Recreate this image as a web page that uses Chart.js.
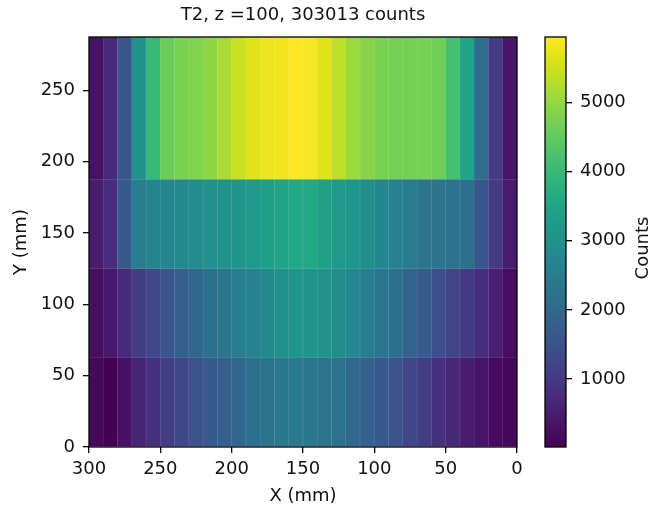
<!DOCTYPE html>
<html>
<head>
<meta charset="utf-8">
<script src="https://cdn.jsdelivr.net/npm/chart.js@4/dist/chart.umd.min.js"></script>
<style>
  html, body { margin: 0; padding: 0; background: #fff; }
  #wrap { position: relative; width: 652px; height: 505px; overflow: hidden; }
  #heat { position: absolute; left: 0; top: 0; }
  #cbar { position: absolute; left: 530px; top: 0; }
</style>
</head>
<body>
<div id="wrap">
  <canvas id="heat" width="606" height="505"></canvas>
  <canvas id="cbar" width="122" height="505"></canvas>
</div>
<script>
// ================= DATA =================
const chartTitle = "T2, z =100, 303013 counts";
const xTitle = "X (mm)";
const yTitle = "Y (mm)";
const cbarTitle = "Counts";

// column centres (mm), left to right as drawn (x axis runs 300 -> 0)
const xCenters = [295, 285, 275, 265, 255, 245, 235, 225, 215, 205,
                  195, 185, 175, 165, 155, 145, 135, 125, 115, 105,
                  95, 85, 75, 65, 55, 45, 35, 25, 15, 5];

// row edges (mm)
const yEdges = [0, 62.5, 125, 187.5, 287.5];

// counts per cell, one array per row, same order as xCenters
const countsRow1 = [131, 15, 309, 611, 842, 1086, 1258, 1497, 1680, 1793,
                    1972, 2155, 2268, 2392, 2447, 2386, 2331, 2209, 2036, 1853,
                    1675, 1501, 1263, 1081, 848, 664, 492, 368, 195, 137];
const countsRow2 = [254, 428, 731, 1079, 1318, 1562, 1794, 1971, 2149, 2333,
                    2505, 2628, 2801, 2986, 3098, 3104, 3039, 2925, 2742, 2569,
                    2327, 2154, 1912, 1738, 1436, 1205, 1021, 790, 546, 249];
const countsRow3 = [487, 784, 1674, 2511, 2683, 2748, 2801, 2867, 2980, 2986,
                    3103, 3218, 3342, 3455, 3579, 3573, 3401, 3222, 3098, 2920,
                    2747, 2624, 2451, 2327, 2272, 2208, 2154, 1561, 1027, 492];
const countsRow4 = [309, 729, 1556, 2981, 3990, 4583, 4766, 4819, 4944, 5176,
                    5473, 5655, 5770, 5833, 5950, 5888, 5650, 5359, 5062, 4880,
                    4761, 4706, 4699, 4708, 4641, 4168, 3459, 2093, 1026, 374];

const xTicks = [300, 250, 200, 150, 100, 50, 0];
const yTicks = [0, 50, 100, 150, 200, 250];
const cbarTicks = [1000, 2000, 3000, 4000, 5000];

// ================= COLORMAP =================
const VIRIDIS = ["#440154", "#471265", "#482475", "#463480", "#414487", "#3b528b",
                 "#355f8d", "#2e6d8e", "#2a788e", "#25848e", "#21918c", "#1e9c89",
                 "#22a884", "#2fb47c", "#44bf70", "#5ec962", "#7ad151", "#9bd93c",
                 "#bddf26", "#dfe318", "#fde725"];

function hexToRgb(h) {
  return [1, 3, 5].map(i => parseInt(h.slice(i, i + 2), 16));
}

function viridis(t, lighten) {
  t = Math.max(0, Math.min(1, t));
  const p = t * (VIRIDIS.length - 1);
  const i = Math.min(Math.floor(p), VIRIDIS.length - 2);
  const f = p - i;
  const a = hexToRgb(VIRIDIS[i]);
  const b = hexToRgb(VIRIDIS[i + 1]);
  let c = a.map((v, k) => v + (b[k] - v) * f);
  if (lighten) c = c.map(v => v + (255 - v) * lighten);
  return "rgb(" + c.map(Math.round).join(",") + ")";
}

const rows = [countsRow1, countsRow2, countsRow3, countsRow4];
const allCounts = rows.flat();
const vmin = Math.min(...allCounts);
const vmax = Math.max(...allCounts);
const norm = v => (v - vmin) / (vmax - vmin);

// ================= SHARED =================
const FONT = "'DejaVu Sans', sans-serif";
const INK = "#111";
Chart.defaults.font.family = FONT;
Chart.defaults.font.size = 18;
Chart.defaults.color = INK;

const frame = {
  id: "frame",
  afterDatasetsDraw(chart) {
    const a = chart.chartArea;
    const ctx = chart.ctx;
    ctx.save();
    ctx.strokeStyle = "#000";
    ctx.lineWidth = 1.3;
    ctx.strokeRect(a.left, a.top, a.right - a.left, a.bottom - a.top);
    ctx.restore();
  }
};

const tickGrid = {
  display: true,
  drawOnChartArea: false,
  drawTicks: true,
  tickLength: 6,
  color: "#000",
  lineWidth: 1.3
};

const plainNumber = v => String(v);

// ================= HEATMAP =================
const datasets = rows.map((row, r) => ({
  data: row.map((v, i) => ({ x: xCenters[i], y: [yEdges[r], yEdges[r + 1]] })),
  backgroundColor: row.map(v => viridis(norm(v))),
  borderColor: row.map(v => viridis(norm(v), 0.2)),
  borderWidth: 0.5,
  borderSkipped: false,
  grouped: false,
  barPercentage: 1,
  categoryPercentage: 1
}));

new Chart(document.getElementById("heat"), {
  type: "bar",
  data: { datasets },
  options: {
    responsive: false,
    animation: false,
    devicePixelRatio: 1,
    layout: { padding: 0 },
    plugins: {
      legend: { display: false },
      tooltip: { enabled: false },
      title: {
        display: true,
        text: chartTitle,
        color: INK,
        font: { size: 18, weight: "normal" },
        padding: { top: 5, bottom: 10.4 }
      }
    },
    scales: {
      x: {
        type: "linear",
        reverse: true,
        min: 0,
        max: 300,
        offset: false,
        afterBuildTicks: s => { s.ticks = xTicks.map(v => ({ value: v })); },
        afterFit: s => { s.height = 58; },
        grid: { ...tickGrid, offset: false },
        border: { display: false },
        ticks: { padding: 6, maxRotation: 0, autoSkip: false, callback: plainNumber },
        title: { display: true, text: xTitle, font: { size: 18, lineHeight: 1 }, padding: { top: 0, bottom: 0 } }
      },
      y: {
        type: "linear",
        min: 0,
        max: 287.5,
        afterBuildTicks: s => { s.ticks = yTicks.map(v => ({ value: v })); },
        afterFit: s => { s.width = 89; },
        grid: tickGrid,
        border: { display: false },
        ticks: { padding: 8, autoSkip: false, callback: plainNumber },
        title: { display: true, text: yTitle, font: { size: 18, lineHeight: 1 }, padding: { top: 12, bottom: 0 } }
      },
      // empty right-hand spacer so the title centres over the plot
      ySpace: {
        type: "linear",
        position: "right",
        display: true,
        grid: { display: false },
        border: { display: false },
        ticks: { display: false },
        afterFit: s => { s.width = 89; }
      }
    }
  },
  plugins: [frame]
});

// ================= COLORBAR =================
const cbarLabel = {
  id: "cbarLabel",
  afterDraw(chart) {
    const s = chart.scales.y;
    const a = chart.chartArea;
    const ctx = chart.ctx;
    ctx.save();
    ctx.translate(s.right - 9, (a.top + a.bottom) / 2 + 6);
    ctx.rotate(-Math.PI / 2);
    ctx.font = "18px " + FONT;
    ctx.fillStyle = INK;
    ctx.textAlign = "center";
    ctx.textBaseline = "middle";
    ctx.fillText(cbarTitle, 0, 0);
    ctx.restore();
  }
};

function gradientFill(context) {
  const area = context.chart.chartArea;
  if (!area) return null;
  const g = context.chart.ctx.createLinearGradient(0, area.bottom, 0, area.top);
  VIRIDIS.forEach((c, i) => g.addColorStop(i / (VIRIDIS.length - 1), c));
  return g;
}

new Chart(document.getElementById("cbar"), {
  type: "bar",
  data: {
    labels: [""],
    datasets: [{
      data: [[vmin, vmax]],
      backgroundColor: gradientFill,
      borderWidth: 0,
      barPercentage: 1,
      categoryPercentage: 1
    }]
  },
  options: {
    responsive: false,
    animation: false,
    devicePixelRatio: 1,
    layout: { padding: { left: 15, right: 0, top: 37, bottom: 58 } },
    plugins: { legend: { display: false }, tooltip: { enabled: false } },
    scales: {
      x: { display: false },
      y: {
        position: "right",
        min: vmin,
        max: vmax,
        afterBuildTicks: s => { s.ticks = cbarTicks.map(v => ({ value: v })); },
        afterFit: s => { s.width = 86; },
        grid: tickGrid,
        border: { display: false },
        ticks: { padding: 8, autoSkip: false, callback: plainNumber }
      }
    }
  },
  plugins: [frame, cbarLabel]
});
</script>
</body>
</html>
